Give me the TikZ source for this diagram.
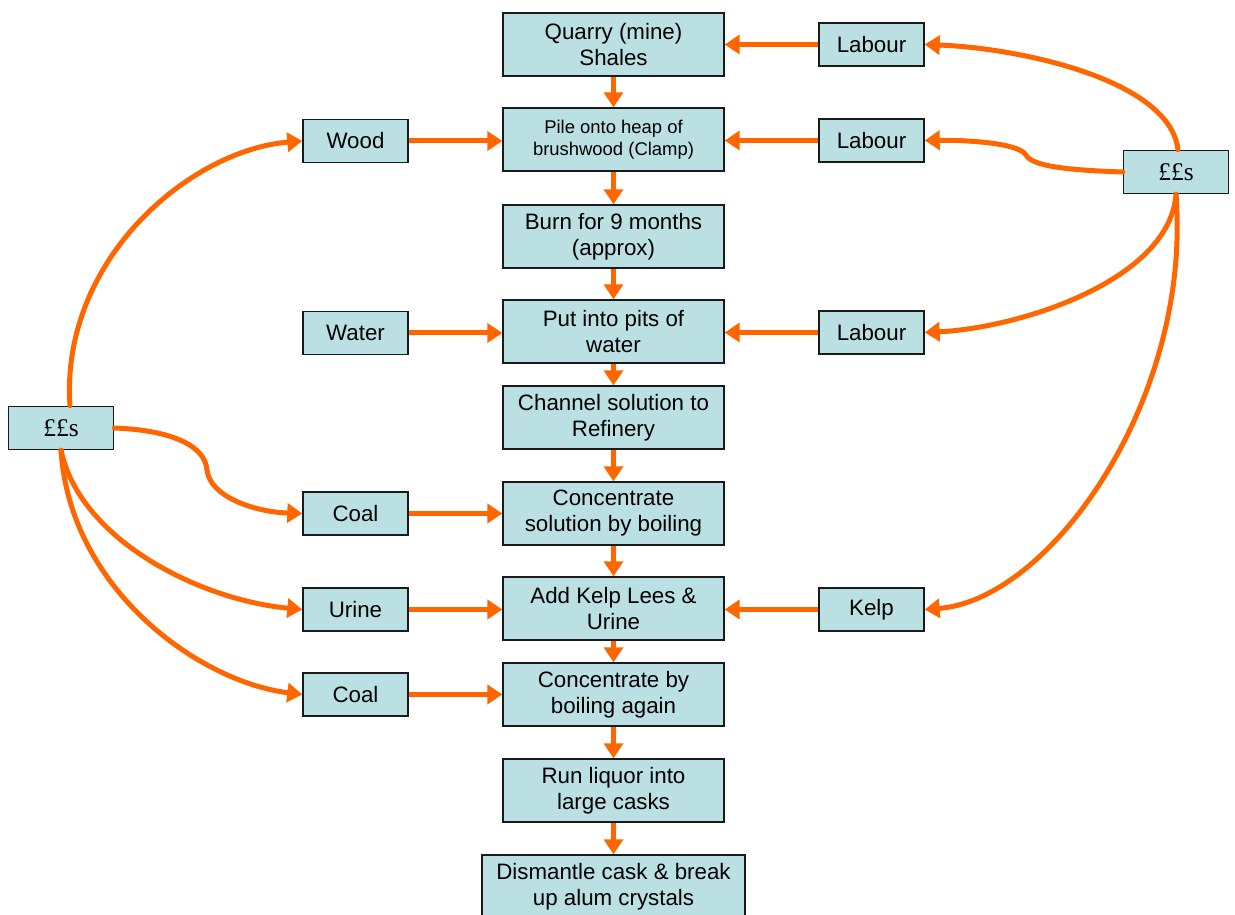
\documentclass[tikz,border=0pt]{standalone}
\usepackage{fontspec}
\setmainfont{Liberation Sans}
\newfontfamily\poundfont{Liberation Serif}
\usetikzlibrary{arrows.meta}
\definecolor{AlumBlue}{HTML}{BBE0E3}
\definecolor{AlumOrange}{HTML}{FF6600}
\definecolor{AlumEdge}{HTML}{1A1A1A}
\tikzset{
    % Box styles
    stage/.style={
        rectangle,
        draw=AlumEdge,
        fill=AlumBlue,
        line width=0.8pt,
        minimum width=4.42cm,
        minimum height=1.26cm,
        inner sep=1pt,
        align=center,
        font=\fontsize{12.7}{14.8}\selectfont
    },
    supply/.style={
        rectangle,
        draw=AlumEdge,
        fill=AlumBlue,
        line width=0.8pt,
        minimum width=2.1cm,
        minimum height=0.86cm,
        inner sep=1pt,
        align=center,
        font=\fontsize{12.7}{14.8}\selectfont
    },
    funds/.style={
        supply,
        font=\poundfont\fontsize{14.5}{16}\selectfont
    },
    % Arrow styles
    flow/.style={
        -{Triangle[length=0.3cm,width=0.38cm]},
        line width=0.1cm,
        draw=AlumOrange
    },
    money/.style={
        flow,
        line cap=round
    }
}
\begin{document}
\begin{tikzpicture}[x=0.02cm, y=-0.02cm]
    \useasboundingbox (0,0) rectangle (1235,915);

    % main process
    \node[stage] (quarry) at (613.5,44.5) {Quarry (mine)\\Shales};
    \node[stage, font=\fontsize{10.5}{12.6}\selectfont] (pile) at (613.5,139.5) {Pile onto heap of\\brushwood (Clamp)};
    \node[stage] (burn) at (613.5,236.5) {Burn for 9 months\\(approx)};
    \node[stage] (pits) at (613.5,331.5) {Put into pits of\\water};
    \node[stage] (channel) at (613.5,417.5) {Channel solution to\\Refinery};
    \node[stage] (boil) at (613.5,513.5) {Concentrate\\solution by boiling};
    \node[stage] (kelp) at (613.5,608.5) {Add Kelp Lees \&\\Urine};
    \node[stage] (reboil) at (613.5,694.5) {Concentrate by\\boiling again};
    \node[stage] (liquor) at (613.5,790.5) {Run liquor into\\large casks};
    \node[stage, minimum width=5.26cm] (crystals) at (613.5,886.5) {Dismantle cask \& break\\up alum crystals};

    % left supplies
    \node[supply] (wood) at (355.5,141) {Wood};
    \node[supply] (water) at (355.5,333) {Water};
    \node[supply] (coalA) at (355.5,513.5) {Coal};
    \node[supply] (urine) at (355.5,609.5) {Urine};
    \node[supply] (coalB) at (355.5,694.5) {Coal};

    % right supplies
    \node[supply] (labourA) at (871.5,44.5) {Labour};
    \node[supply] (labourB) at (871.5,140.5) {Labour};
    \node[supply] (labourC) at (871.5,332.5) {Labour};
    \node[supply] (kelpin) at (871.5,609.5) {Kelp};

    % money
    \node[funds] (fundsL) at (61,428) {££s};
    \node[funds] (fundsR) at (1176,172) {££s};

    % main chain
    \draw[flow] (quarry) -- (pile);
    \draw[flow] (pile) -- (burn);
    \draw[flow] (burn) -- (pits);
    \draw[flow] (pits) -- (channel);
    \draw[flow] (channel) -- (boil);
    \draw[flow] (boil) -- (kelp);
    \draw[flow] (kelp) -- (reboil);
    \draw[flow] (reboil) -- (liquor);
    \draw[flow] (liquor) -- (crystals);

    % supplies into process
    \draw[flow] (wood) -- (pile.west |- wood);
    \draw[flow] (water) -- (pits.west |- water);
    \draw[flow] (coalA) -- (boil.west |- coalA);
    \draw[flow] (urine) -- (kelp.west |- urine);
    \draw[flow] (coalB) -- (reboil.west |- coalB);
    \draw[flow] (labourA) -- (quarry.east |- labourA);
    \draw[flow] (labourB) -- (pile.east |- labourB);
    \draw[flow] (labourC) -- (pits.east |- labourC);
    \draw[flow] (kelpin) -- (kelp.east |- kelpin);

    % left funding
    \draw[money] (fundsL.north -| 70,0) .. controls (60,260) and (190,150) .. (wood.west);
    \draw[money] (fundsL.east) .. controls (170,430) and (205,445) .. (207,470)
        .. controls (210,497) and (255,512) .. (coalA.west);
    \draw[money] (fundsL.south) .. controls (80,540) and (200,600) .. (urine.west);
    \draw[money] (fundsL.south) .. controls (70,590) and (200,682) .. (coalB.west);

    % right funding
    \draw[money] (fundsR.north -| 1178,0) .. controls (1170,80) and (1020,48) .. (labourA.east);
    \draw[money] (fundsR.west) .. controls (1065,170) and (1032,166) .. (1026,155)
        .. controls (1018,142) and (960,140) .. (labourB.east);
    \draw[money] (fundsR.south) .. controls (1170,280) and (1020,328) .. (labourC.east);
    \draw[money] (fundsR.south) .. controls (1192,400) and (1050,600) .. (kelpin.east);
\end{tikzpicture}
\end{document}
